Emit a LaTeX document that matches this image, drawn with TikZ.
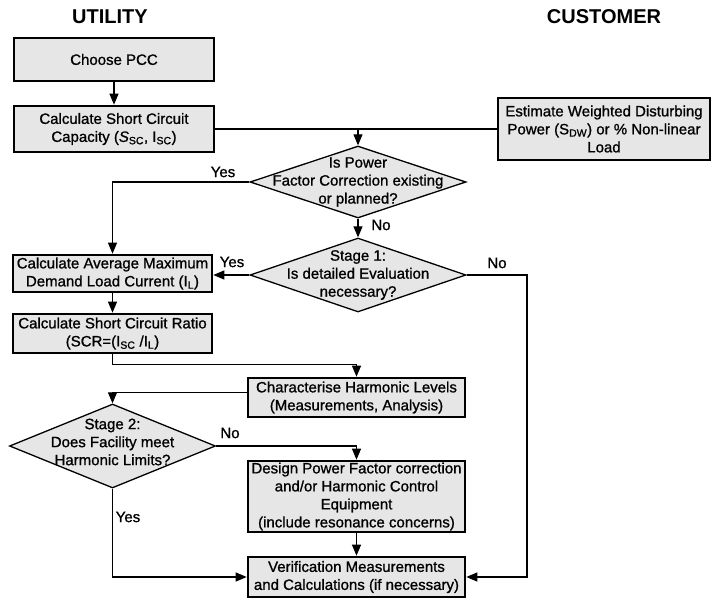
\documentclass[tikz,border=0pt]{standalone}
\usepackage{fontspec}
\setmainfont{Liberation Sans}
\newfontfamily\medfont[FakeBold=1]{Liberation Sans}
\usetikzlibrary{arrows.meta,shapes.geometric,calc}
\definecolor{boxgray}{HTML}{E6E6E6}
\newcommand\subx[1]{\textsubscript{#1}}
\begin{document}
\begin{tikzpicture}[x=1pt,y=-1pt,
  box/.style={draw=black, line width=2.6pt, fill=boxgray, align=center, inner sep=0pt, font=\medfont\fontsize{15}{18}\selectfont},
  dia/.style={diamond, draw=black, line width=1.3pt, fill=boxgray, inner sep=0pt},
  txt/.style={align=center, inner sep=0pt, font=\medfont\fontsize{15}{18}\selectfont},
  lbl/.style={font=\medfont\fontsize{15}{18}\selectfont},
  hdr/.style={font=\bfseries\fontsize{20}{24}\selectfont},
  conn/.style={line width=1.1pt, -{Triangle[length=11pt,width=9pt]}},
  plain/.style={line width=1.1pt}
]
\useasboundingbox (0,0) rectangle (712,599);

\node[hdr] (hu) at (110,17) {UTILITY};
\node[hdr] (hc) at (604,17) {CUSTOMER};

\node[box, minimum width=200pt, minimum height=43pt] (pcc) at (114,59.5) {Choose PCC};
\node[box, minimum width=200pt, minimum height=46pt] (scc) at (114,129) {Calculate Short Circuit\\Capacity (\textit{S}\subx{SC}, I\subx{SC})};
\node[box, minimum width=212pt, minimum height=62pt] (est) at (604,129) {Estimate Weighted Disturbing\\Power (S\subx{DW}) or \% Non-linear\\Load};

\node[dia, minimum width=216pt, minimum height=72pt] (d1) at (358,182) {};
\node[txt] (t1) at (d1) {Is Power\\Factor Correction existing\\or planned?};
\node[dia, minimum width=216pt, minimum height=74pt] (d2) at (358,275) {};
\node[txt] (t2) at (d2) {Stage 1:\\Is detailed Evaluation\\necessary?};

\node[box, minimum width=199pt, minimum height=37pt] (avg) at (112.5,273.5) {Calculate Average Maximum\\Demand Load Current (I\subx{L})};
\node[box, minimum width=199pt, minimum height=39pt] (scr) at (112.5,333.5) {Calculate Short Circuit Ratio\\(SCR=(I\subx{SC} /I\subx{L})};
\node[box, minimum width=217pt, minimum height=39pt] (chr) at (356.5,397.5) {Characterise Harmonic Levels\\(Measurements, Analysis)};

\node[dia, minimum width=206pt, minimum height=84pt] (d3) at (112.5,446) {};
\node[txt] (t3) at ($(d3)+(0,-4)$) {Stage 2:\\Does Facility meet\\Harmonic Limits?};

\node[box, minimum width=217pt, minimum height=71pt] (des) at (356.5,496.5) {Design Power Factor correction\\and/or Harmonic Control\\Equipment\\(include resonance concerns)};
\node[box, minimum width=217pt, minimum height=40pt] (ver) at (356.5,577) {Verification Measurements\\and Calculations (if necessary)};

\coordinate (nr) at (527,577);

\draw[conn] (pcc.south) -- (scc.north);
\draw[plain] (scc.east) -- (est.west);
\draw[conn] (d1.north |- scc.east) -- (d1.north);
\draw[conn] (d1.west) -| (avg.north);
\draw[conn] (d1.south) -- (d2.north);
\draw[conn] (d2.west) -- (d2.west -| avg.east);
\draw[conn] (d2.east) -| (nr) -- (ver.east);
\draw[conn] (avg.south) -- (scr.north);
\draw[conn] (scr.south) -- ++(0,10) -| (chr.north);
\draw[conn] ($(chr.west)+(0,-5)$) -| (d3.north);
\draw[conn] (d3.east) -| (des.north);
\draw[conn] (des.south) -- (ver.north);
\draw[conn] (d3.south) |- (ver.west);

\node[lbl] (ly1) at (223,172) {Yes};
\node[lbl] (ln1) at (381,225) {No};
\node[lbl] (ly2) at (232,262) {Yes};
\node[lbl] (ln2) at (497,263) {No};
\node[lbl] (ln3) at (230,433) {No};
\node[lbl] (ly3) at (128,517) {Yes};
\end{tikzpicture}
\end{document}
